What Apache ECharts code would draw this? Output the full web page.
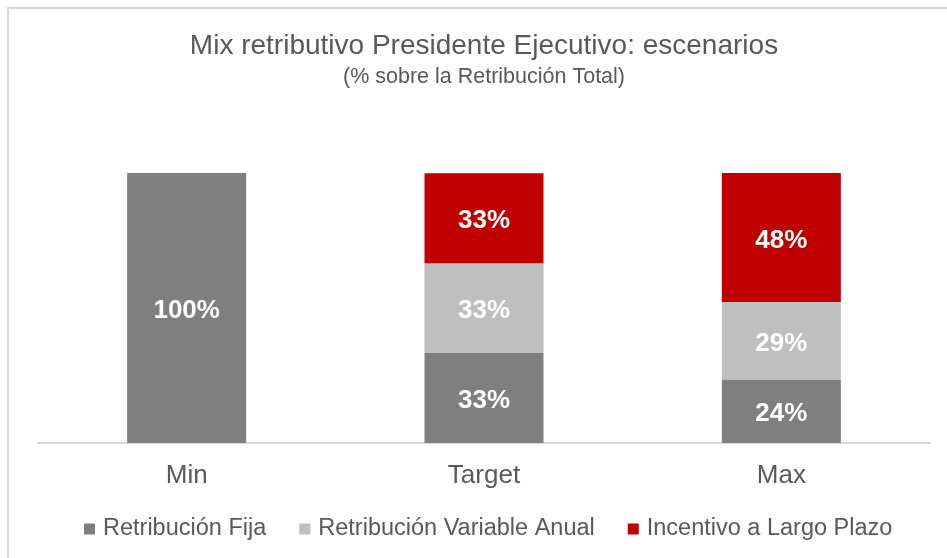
<!DOCTYPE html>
<html>
<head>
<meta charset="utf-8">
<script src="https://cdn.jsdelivr.net/npm/echarts@6/dist/echarts.min.js"></script>
<style>
  html, body { margin: 0; padding: 0; background: #fff; }
  #main { width: 947px; height: 558px; }
</style>
</head>
<body>
<div id="main"></div>
<script>
// escenarios
const categories = ["Min", "Target", "Max"];
// % sobre la retribución total
const fija = [100, 33.3, 23.5];
const variable = [null, 33.3, 28.7];
const incentivo = [null, 33.3, 47.8];
const seriesNames = ["Retribución Fija", "Retribución Variable Anual", "Incentivo a Largo Plazo"];
const colors = ["#7f7f7f", "#bfbfbf", "#c00000"];

const font = "Liberation Sans, Arial, sans-serif";

function barSeries(name, data, color) {
  return {
    name: name,
    type: "bar",
    stack: "total",
    barWidth: 119,
    data: data,
    itemStyle: { color: color },
    label: {
      show: true,
      position: "inside",
      color: "#fff",
      fontFamily: font,
      fontWeight: "bold",
      fontSize: 26,
      offset: [0, 3],
      formatter: function (p) {
        return p.value == null ? "" : Math.round(p.value) + "%";
      }
    }
  };
}

let myChart = echarts.init(document.getElementById("main"));
myChart.setOption({
  animation: false,
  color: colors,
  graphic: [
    {
      type: "rect",
      shape: { x: 8, y: 8, width: 980, height: 600 },
      style: { fill: "none", stroke: "#d9d9d9", lineWidth: 2 },
      silent: true
    }
  ],
  title: {
    text: "Mix retributivo Presidente Ejecutivo: escenarios",
    subtext: "(% sobre la Retribución Total)",
    left: 484,
    textAlign: "center",
    top: 32,
    padding: 0,
    itemGap: 6,
    textStyle: { fontFamily: font, fontSize: 28, fontWeight: "normal", color: "#595959" },
    subtextStyle: { fontFamily: font, fontSize: 21.5, color: "#595959" }
  },
  legend: {
    data: seriesNames,
    top: 517,
    left: 84,
    padding: 0,
    icon: "rect",
    itemWidth: 11,
    itemHeight: 11,
    itemGap: 33,
    textStyle: { fontFamily: font, fontSize: 23.5, color: "#595959", padding: [0, 0, 0, 3] }
  },
  grid: { left: 38, right: 17, top: 173, bottom: 115 },
  xAxis: {
    type: "category",
    data: categories,
    axisLine: { lineStyle: { color: "#d9d9d9", width: 2 } },
    axisTick: { show: false },
    axisLabel: { fontFamily: font, fontSize: 26, color: "#595959", margin: 20 }
  },
  yAxis: {
    type: "value",
    min: 0,
    max: 100,
    show: false,
    splitLine: { show: false }
  },
  series: [
    barSeries(seriesNames[0], fija, colors[0]),
    barSeries(seriesNames[1], variable, colors[1]),
    barSeries(seriesNames[2], incentivo, colors[2])
  ]
});
</script>
</body>
</html>
